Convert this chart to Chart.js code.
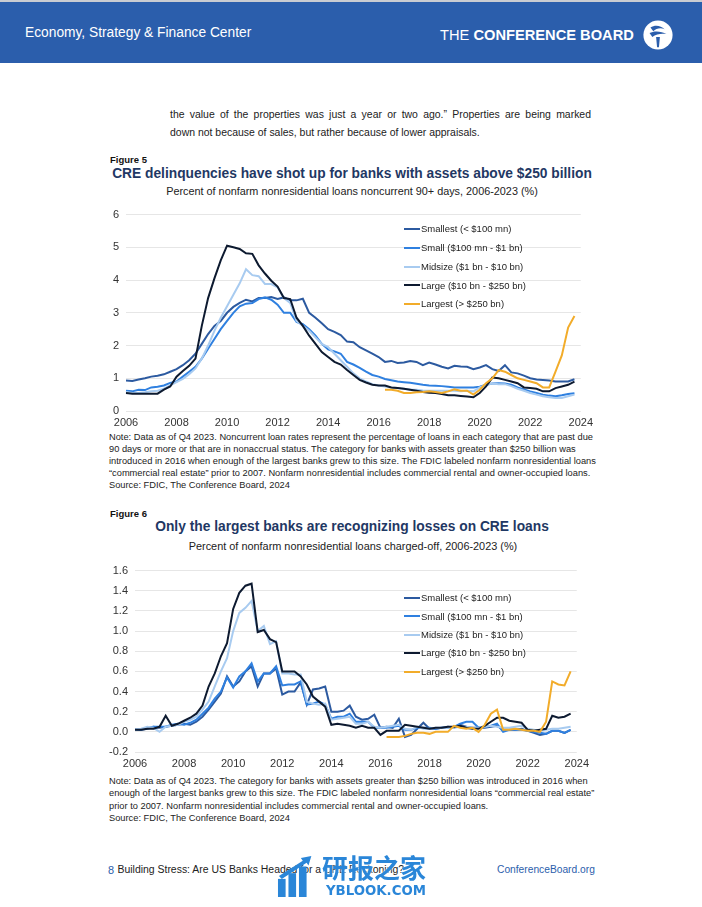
<!DOCTYPE html>
<html><head><meta charset="utf-8">
<script src="https://cdn.jsdelivr.net/npm/chart.js@4.4.1/dist/chart.umd.min.js"></script>
<style>
html,body{margin:0;padding:0;background:#fff;}
body{width:702px;height:907px;position:relative;overflow:hidden;font-family:"Liberation Sans",Arial,Helvetica,sans-serif;color:#222;}
.t{position:absolute;white-space:nowrap;line-height:1;}
#topline{position:absolute;left:0;top:0;width:702px;height:2px;background:#c9ccd2;}
#hdr{position:absolute;left:0;top:2px;width:702px;height:61px;background:#2B5EAC;}
canvas{position:absolute;}
.lg{position:absolute;height:2px;width:16px;}
#wm{position:absolute;left:0;top:0;width:702px;height:907px;pointer-events:none;}
</style>
</head><body>
<div id="topline"></div>
<div id="hdr"></div>
<svg style="position:absolute;left:642px;top:19px" width="32" height="32" viewBox="0 0 34 34">
  <circle cx="17" cy="17" r="15.5" fill="#fff"/>
  <path d="M9 9 C14 6,20 7,24 11 C20 9,15 10,12 13 Z" fill="#2B5EAC"/>
  <path d="M8 15 C13 12,21 13,26 16 C21 15,15 16,11 19 Z" fill="#2B5EAC"/>
  <path d="M15 19 L19 19 L18 30 L16 30 Z" fill="#2B5EAC"/>
</svg>
<canvas id="c1" width="510" height="230" style="left:88px;top:201px"></canvas>
<canvas id="c2" width="506" height="215" style="left:88px;top:557px"></canvas>
<div id="texts"></div>
<div id="wm">
  <svg style="position:absolute;left:277px;top:856px" width="42" height="41" viewBox="0 0 44 43">
    <rect x="1" y="24" width="8" height="19" fill="#2A86D8"/>
    <rect x="12" y="18" width="8" height="25" fill="#2A86D8"/>
    <rect x="23" y="11" width="8" height="32" fill="#2A86D8"/>
    <path d="M2 21 L27 5 L25 2 L36 0 L33 10 L31 7 L5 24 Z" fill="#2A86D8"/>
  </svg>
</div>
<script>
// ---------- data ----------
const startYear = 2006, endYear = 2024;
const yearTickLabels = ['2006','2008','2010','2012','2014','2016','2018','2020','2022','2024'];
const yTicksFig5 = [0, 1, 2, 3, 4, 5, 6];
const yTicksFig6 = [-0.2, 0.0, 0.2, 0.4, 0.6, 0.8, 1.0, 1.2, 1.4, 1.6];
const seriesNames = ['Smallest (< $100 mn)','Small ($100 mn - $1 bn)','Midsize ($1 bn - $10 bn)','Large ($10 bn - $250 bn)','Largest (> $250 bn)'];

// Figure 5: noncurrent 90+ days (%), quarterly 2006Q1-2023Q4
const ncSmallest = [0.93,0.92,0.96,1.00, 1.05,1.08,1.12,1.20, 1.28,1.40,1.55,1.75, 2.05,2.35,2.60,2.75,
  3.00,3.18,3.30,3.40, 3.35,3.45,3.45,3.48, 3.42,3.47,3.38,3.38, 3.43,3.00,2.85,2.68, 2.50,2.42,2.32,2.12,
  2.10,1.95,1.85,1.75, 1.65,1.50,1.53,1.47, 1.48,1.53,1.50,1.40, 1.48,1.42,1.35,1.30, 1.38,1.36,1.35,1.28,
  1.33,1.40,1.28,1.22, 1.40,1.18,1.15,1.08, 1.00,0.96,0.95,0.93, 0.90,0.90,0.90,0.97];
const ncSmall = [0.62,0.60,0.65,0.64, 0.72,0.74,0.78,0.86, 0.90,1.05,1.20,1.35, 1.60,1.90,2.20,2.50,
  2.75,3.00,3.20,3.28, 3.30,3.42,3.47,3.40, 3.25,3.00,3.00,2.72, 2.65,2.50,2.30,2.05, 1.88,1.82,1.75,1.50,
  1.42,1.32,1.20,1.10, 1.05,0.98,0.94,0.90, 0.88,0.86,0.83,0.80, 0.78,0.77,0.76,0.74, 0.72,0.72,0.72,0.72,
  0.74,0.80,0.84,0.85, 0.84,0.80,0.72,0.66, 0.60,0.55,0.50,0.47, 0.45,0.48,0.52,0.54];
const ncMidsize = [0.58,0.55,0.55,0.57, 0.60,0.62,0.68,0.78, 0.88,0.98,1.12,1.30, 1.60,2.00,2.45,2.85,
  3.20,3.55,3.90,4.33, 4.15,4.12,3.88,3.88, 3.78,3.45,3.30,2.75, 2.60,2.45,2.25,2.05, 1.95,1.75,1.55,1.35,
  1.15,1.00,0.90,0.82, 0.78,0.75,0.72,0.70, 0.68,0.66,0.65,0.63, 0.62,0.62,0.62,0.62, 0.62,0.60,0.62,0.60,
  0.72,0.80,0.84,0.82, 0.82,0.76,0.68,0.62, 0.55,0.50,0.45,0.42, 0.40,0.40,0.45,0.50];
const ncLarge = [0.55,0.53,0.53,0.53, 0.53,0.53,0.65,0.75, 1.05,1.22,1.38,1.60, 2.60,3.45,4.05,4.60,
  5.05,5.00,4.95,4.82, 4.80,4.45,4.20,3.98, 3.80,3.45,3.42,2.85, 2.60,2.30,2.05,1.80, 1.65,1.50,1.42,1.25,
  1.10,0.95,0.87,0.80, 0.78,0.78,0.72,0.70, 0.68,0.65,0.62,0.58, 0.56,0.55,0.52,0.48, 0.48,0.46,0.44,0.42,
  0.55,0.75,1.02,1.00, 0.95,0.90,0.85,0.72, 0.70,0.68,0.60,0.60, 0.70,0.75,0.80,0.90];
const ncLargest = [null,null,null,null, null,null,null,null, null,null,null,null, null,null,null,null,
  null,null,null,null, null,null,null,null, null,null,null,null, null,null,null,null, null,null,null,null,
  null,null,null,null, null,0.65,0.65,0.62, 0.55,0.55,0.57,0.58, 0.60,0.58,0.55,0.60, 0.66,0.62,0.62,0.50,
  0.65,0.85,1.00,1.25, 1.20,1.10,1.00,0.95, 0.90,0.85,0.72,0.72, 1.20,1.70,2.55,2.90];

// Figure 6: charge-offs (%), quarterly 2006Q1-2023Q4
const coSmallest = [0.02,0.02,0.03,0.05, 0.04,0.05,0.06,0.07, 0.08,0.07,0.10,0.15, 0.22,0.30,0.38,0.55,
  0.45,0.50,0.60,0.65, 0.45,0.58,0.58,0.63, 0.37,0.40,0.40,0.49, 0.27,0.42,0.43,0.45, 0.20,0.20,0.21,0.26,
  0.15,0.12,0.13,0.17, 0.04,0.05,0.04,0.13, -0.05,-0.03,0.03,0.09, 0.03,0.03,0.04,0.05, 0.04,0.07,0.05,0.04,
  0.04,0.04,0.05,0.06, 0.02,0.02,0.02,0.03, 0.01,-0.01,-0.03,-0.02, 0.01,0.01,-0.01,0.02];
const coSmall = [0.02,0.02,0.04,0.05, 0.05,0.05,0.07,0.08, 0.07,0.09,0.12,0.18, 0.24,0.33,0.40,0.54,
  0.44,0.55,0.60,0.68, 0.50,0.58,0.58,0.65, 0.46,0.47,0.47,0.50, 0.27,0.28,0.30,0.27, 0.13,0.15,0.15,0.18,
  0.10,0.10,0.10,0.04, 0.04,0.04,0.05,0.06, 0.02,0.02,0.04,0.04, 0.04,0.03,0.04,0.04, 0.05,0.08,0.10,0.10,
  0.04,0.05,0.06,0.08, 0.00,0.02,0.02,0.02, 0.01,0.00,-0.01,-0.02, 0.01,0.01,-0.01,0.02];
const coMidsize = [0.02,0.03,0.05,0.04, 0.00,0.05,0.06,0.07, 0.10,0.12,0.15,0.22, 0.30,0.45,0.60,0.73,
  1.00,1.18,1.23,1.30, 1.00,1.05,0.87,0.90, 0.58,0.58,0.57,0.57, 0.30,0.28,0.27,0.28, 0.12,0.13,0.14,0.15,
  0.08,0.08,0.10,0.05, 0.04,0.05,0.06,0.07, 0.03,0.02,0.05,0.03, 0.03,0.04,0.04,0.04, 0.04,0.05,0.05,0.04,
  0.04,0.05,0.06,0.05, 0.04,0.04,0.05,0.06, 0.03,0.02,0.01,0.02, 0.03,0.03,0.04,0.05];
const coLarge = [0.02,0.02,0.03,0.03, 0.05,0.16,0.06,0.08, 0.11,0.14,0.18,0.26, 0.45,0.58,0.75,0.88,
  1.22,1.38,1.45,1.47, 0.99,1.01,0.92,0.89, 0.60,0.60,0.60,0.55, 0.47,0.35,0.30,0.25, 0.07,0.08,0.07,0.06,
  0.04,0.06,0.04,0.04, -0.03,0.01,0.01,0.01, 0.07,0.06,0.05,0.04, 0.03,0.04,0.04,0.05, 0.05,0.06,0.04,0.03,
  0.03,0.06,0.10,0.14, 0.14,0.11,0.10,0.09, 0.02,0.01,0.02,0.03, 0.16,0.14,0.15,0.18];
const coLargest = [null,null,null,null, null,null,null,null, null,null,null,null, null,null,null,null,
  null,null,null,null, null,null,null,null, null,null,null,null, null,null,null,null, null,null,null,null,
  null,null,null,null, null,-0.05,-0.05,-0.05, -0.04,-0.02,-0.01,-0.01, -0.02,0.00,0.00,0.00, 0.06,0.04,0.03,0.04,
  0.00,0.07,0.18,0.22, 0.02,0.02,0.03,0.02, 0.01,0.01,0.00,0.10, 0.50,0.47,0.46,0.60];

const lineColors = ['#2C5AA0','#2F80E0','#A8CBF0','#0D1A30','#F2AC2A'];

// ---------- categories ----------
const quarterLabels = [];
for (let y = startYear; y < endYear; y++) for (let q = 1; q <= 4; q++) quarterLabels.push(y + 'Q' + q);
quarterLabels.push(endYear + 'Q1');

// ---------- text helpers ----------
const box = document.getElementById('texts');
function T(text, x, yc, size, opts) {
  opts = opts || {};
  const d = document.createElement('div');
  d.className = 't';
  d.textContent = text;
  d.style.fontSize = size + 'px';
  if (opts.bold) d.style.fontWeight = 'bold';
  if (opts.color) d.style.color = opts.color;
  box.appendChild(d);
  let s = size;
  if (opts.w) { s = size * opts.w / d.offsetWidth; d.style.fontSize = s + 'px'; }
  if (opts.justify) {
    const n = (text.match(/ /g) || []).length;
    d.style.wordSpacing = ((opts.justify - d.getBoundingClientRect().width) / n) + 'px';
  }
  const wd = d.getBoundingClientRect().width;
  let left = x;
  if (opts.align === 'center') left = x - wd / 2;
  if (opts.align === 'right') left = x - wd;
  d.style.left = left + 'px';
  d.style.top = (yc - s * 0.5) + 'px';
  return s;
}
function fitSize(text, size, w, bold) {
  const d = document.createElement('div');
  d.className = 't'; d.textContent = text; d.style.fontSize = size + 'px';
  if (bold) d.style.fontWeight = 'bold';
  box.appendChild(d);
  const s = size * w / d.getBoundingClientRect().width;
  box.removeChild(d);
  return s;
}
function HTMLT(html, x, yc, size, w) {
  const d = document.createElement('div');
  d.className = 't'; d.innerHTML = html; d.style.fontSize = size + 'px';
  box.appendChild(d);
  let s = size;
  if (w) { s = size * w / d.getBoundingClientRect().width; d.style.fontSize = s + 'px'; }
  d.style.left = x + 'px'; d.style.top = (yc - s * 0.5) + 'px';
  return d;
}

// header
T('Economy, Strategy & Finance Center', 25, 33, 15, {color:'#fff', w:227});
const cb = HTMLT('<span style="font-weight:normal">THE </span><span style="font-weight:bold">CONFERENCE BOARD</span>', 440, 35, 17, 194);
cb.style.color = '#fff';

// body text (justified first line)
const bs = fitSize('down not because of sales, but rather because of lower appraisals.', 11, 310);
T('the value of the properties was just a year or two ago.\u201D Properties are being marked', 170, 115, bs, {justify:421});
T('down not because of sales, but rather because of lower appraisals.', 170, 133, bs);

// figure 5
T('Figure 5', 110, 160, 9.5, {bold:true, color:'#111'});
T('CRE delinquencies have shot up for banks with assets above $250 billion', 352, 174, 14, {bold:true, color:'#1F3864', w:480, align:'center'});
T('Percent of nonfarm nonresidential loans noncurrent 90+ days, 2006-2023 (%)', 352, 191, 11, {w:372, align:'center'});
const note1 = ['Note: Data as of Q4 2023. Noncurrent loan rates represent the percentage of loans in each category that are past due',
 '90 days or more or that are in nonaccrual status. The category for banks with assets greater than $250 billion was',
 'introduced in 2016 when enough of the largest banks grew to this size. The FDIC labeled nonfarm nonresidential loans',
 '\u201Ccommercial real estate\u201D prior to 2007. Nonfarm nonresidential includes commercial rental and owner-occupied loans.',
 'Source: FDIC, The Conference Board, 2024'];
const ns = T(note1[0], 109, 438, 9.6, {w:484});
for (let i = 1; i < note1.length; i++) T(note1[i], 109, 438 + 12 * i, ns);

// figure 6
T('Figure 6', 110, 514, 9.5, {bold:true, color:'#111'});
T('Only the largest banks are recognizing losses on CRE loans', 352, 527, 14, {bold:true, color:'#1F3864', w:394, align:'center'});
T('Percent of nonfarm nonresidential loans charged-off, 2006-2023 (%)', 353, 546, 11, {w:329, align:'center'});
const note2 = ['Note: Data as of Q4 2023. The category for banks with assets greater than $250 billion was introduced in 2016 when',
 'enough of the largest banks grew to this size. The FDIC labeled nonfarm nonresidential loans \u201Ccommercial real estate\u201D',
 'prior to 2007. Nonfarm nonresidential includes commercial rental and owner-occupied loans.',
 'Source: FDIC, The Conference Board, 2024'];
for (let i = 0; i < note2.length; i++) T(note2[i], 109, 782 + 12.1 * i, ns);

// footer
const fs = fitSize('Building Stress: Are US Banks Headed for a CRE Reckoning?', 11.5, 287);
T('8', 108, 870, fs + 0.5, {color:'#2B5EAC'});
T('Building Stress: Are US Banks Headed for a CRE Reckoning?', 117.5, 870, fs, {color:'#222'});
T('ConferenceBoard.org', 497, 870, 11.5, {color:'#2B5EAC', w:98});

// legends
const lgSize = fitSize('Large ($10 bn - $250 bn)', 10, 105);
function legend(x, y0, step) {
  for (let i = 0; i < seriesNames.length; i++) {
    const l = document.createElement('div');
    l.className = 'lg'; l.style.left = x + 'px'; l.style.top = (y0 + step * i - 1) + 'px';
    l.style.background = lineColors[i];
    box.appendChild(l);
    T(seriesNames[i], x + 17, y0 + step * i, lgSize, {color:'#222'});
  }
}
legend(404, 229, 18.8);
legend(404, 598, 18.4);

// watermark text
const wm = document.getElementById('wm');
function W(text, x, yc, size, extra, w) {
  const d = document.createElement('div');
  d.className = 't'; d.textContent = text;
  d.style.cssText += 'font-size:' + size + 'px;color:#2A86D8;' + (extra || '');
  wm.appendChild(d);
  let s = size;
  if (w) { s = size * w / d.getBoundingClientRect().width; d.style.fontSize = s + 'px'; }
  d.style.left = x + 'px'; d.style.top = (yc - s * 0.5) + 'px';
}
W('\u7814\u62A5\u4E4B\u5BB6', 322, 867, 26, 'font-family:"Noto Sans CJK SC";font-weight:bold;text-shadow:0 0 2px #fff;', 104);
W('YBLOOK.COM', 326, 891, 15, 'font-family:"DejaVu Sans";font-weight:bold;', 100);

// ---------- charts ----------
function buildChart(id, data, yTicks, yW, padTop, dec) {
  const datasets = data.map((arr, i) => ({
    label: seriesNames[i], data: arr, borderColor: lineColors[i], backgroundColor: lineColors[i],
    borderWidth: 2, pointRadius: 0, tension: 0, fill: false, spanGaps: false, order: 4 - i
  }));
  return new Chart(document.getElementById(id), {
    type: 'line',
    data: { labels: quarterLabels, datasets },
    options: {
      responsive: false, animation: false, devicePixelRatio: 1,
      layout: { padding: { top: padTop, right: 14, left: 0, bottom: 0 } },
      plugins: { legend: { display: false }, tooltip: { enabled: false } },
      scales: {
        x: {
          type: 'category', offset: false,
          grid: { display: false, drawTicks: false }, border: { display: false },
          ticks: {
            autoSkip: false, maxRotation: 0, minRotation: 0, padding: 5, color: '#333',
            font: { family: '"Liberation Sans", Arial', size: 11 },
            callback: (v, i) => {
              const l = quarterLabels[i];
              return (l.endsWith('Q1') && yearTickLabels.includes(l.slice(0, 4))) ? l.slice(0, 4) : '';
            }
          },
          afterFit: s => { s.height = 20; }
        },
        y: {
          min: yTicks[0], max: yTicks[yTicks.length - 1],
          grid: { color: '#E6E6E6', drawTicks: false, lineWidth: 1 }, border: { display: false },
          ticks: { padding: 7, color: '#333', font: { family: '"Liberation Sans", Arial', size: 11 },
            callback: v => dec ? Number(v).toFixed(1) : String(v) },
          afterBuildTicks: s => { s.ticks = yTicks.map(v => ({ value: v })); },
          afterFit: s => { s.width = yW; }
        }
      }
    }
  });
}
buildChart('c1', [ncSmallest, ncSmall, ncMidsize, ncLarge, ncLargest], yTicksFig5, 38, 0, false);
buildChart('c2', [coSmallest, coSmall, coMidsize, coLarge, coLargest], yTicksFig6, 47, 0, true);
</script>
</body></html>
